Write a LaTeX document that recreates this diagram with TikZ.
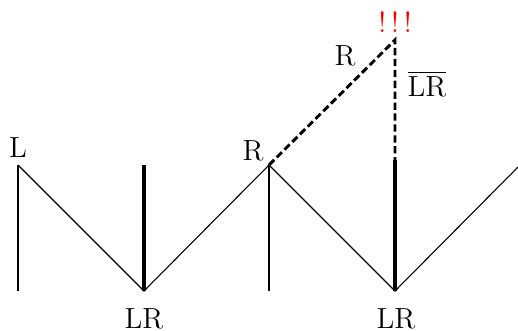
\documentclass[tikz,border=0pt]{standalone}
\usepackage{tikz}
\usetikzlibrary{calc}

\begin{document}
\begin{tikzpicture}[x=0.0145cm, y=-0.0145cm, font=\large]
    \useasboundingbox (0,0) rectangle (518,331);

    \coordinate (L) at (18,165);
    \coordinate (LR1) at (144,291);
    \coordinate (R) at (269,165);
    \coordinate (LR2) at (395,291);
    \coordinate (E) at (518,167);
    \coordinate (T) at (395,40);
    \coordinate (M) at (395,160);

    % posts
    \draw[line width=1pt] (L) -- (18,291);
    \draw[line width=1.3pt] (LR1) -- (144,165);
    \draw[line width=1pt] (R) -- (269,291);
    \draw[line width=1.3pt] (LR2) -- (M);

    % zigzag
    \draw[line width=0.45pt] (L) -- (LR1) -- (R) -- (LR2) -- (E);

    % dashed part
    \draw[line width=1.2pt, dash pattern=on 3pt off 1.5pt] (R) -- (T) -- (M);

    \node[anchor=base] at (18,157) {L};
    \node[anchor=base] at (253,160) {R};
    \node[anchor=base] at (144,328) {LR};
    \node[anchor=base] at (396,328) {LR};
    \node[anchor=base] at (345,65) {R};
    \node[anchor=base] at (427,96) {$\overline{\mathrm{LR}}$};
    \node[anchor=base, text=red] at (395,32) {!\,!\,!};
\end{tikzpicture}
\end{document}
